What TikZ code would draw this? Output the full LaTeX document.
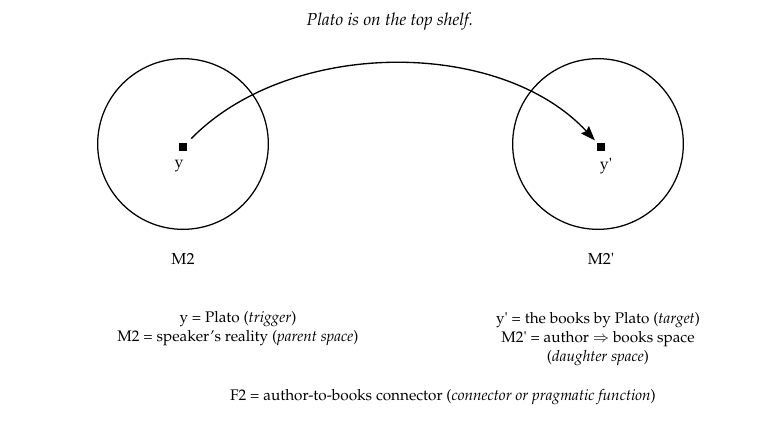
\documentclass[tikz,border=0pt]{standalone}
\usepackage[T1]{fontenc}
\usepackage{textcomp}
\usepackage{mathpazo}
\usetikzlibrary{arrows.meta}
\newcommand{\prm}{\textquotesingle}
\begin{document}
\begin{tikzpicture}[x=0.75pt,y=-0.75pt,
  space/.style={circle, draw, line width=0.95pt, minimum size=128pt, inner sep=0pt},
  elem/.style={rectangle, fill=black, minimum size=6.5pt, inner sep=0pt},
  lbl/.style={font=\fontsize{12}{14}\selectfont, inner sep=0pt},
  txt/.style={font=\fontsize{11.5}{14.4}\selectfont, align=center, inner sep=0pt},
  conn/.style={line width=1pt, -{Stealth[length=11pt,width=8pt,inset=1.5pt]}}]
\useasboundingbox (0,0) rectangle (766,428);
\node[txt, font=\fontsize{13}{15}\selectfont\itshape] (title) at (390,22) {Plato is on the top shelf.};
\node[space] (M2) at (183,144) {};
\node[space] (M2p) at (598,144) {};
\node[elem] (y) at (183,147) {};
\node[elem] (yp) at (601,147) {};
\node[lbl] (ylab) at (179,166) {y};
\node[lbl] (yplab) at (606,166) {y\prm};
\node[lbl] (M2lab) at (183,259) {M2};
\node[lbl] (M2plab) at (601,259) {M2\prm};
\draw[conn, shorten <=4pt, shorten >=2pt] (y) .. controls (290,38) and (500,38) .. (yp);
\node[txt] (leftdesc) at (238,329) {y = Plato (\textit{trigger})\\M2 = speaker's reality (\textit{parent space})};
\node[txt] (rightdesc) at (598,339) {y\prm{} = the books by Plato (\textit{target})\\M2\prm{} = author $\Rightarrow$ books space\\(\textit{daughter space})};
\node[txt] (f2) at (443,397) {F2 = author-to-books connector (\textit{connector or pragmatic function})};
\end{tikzpicture}
\end{document}
